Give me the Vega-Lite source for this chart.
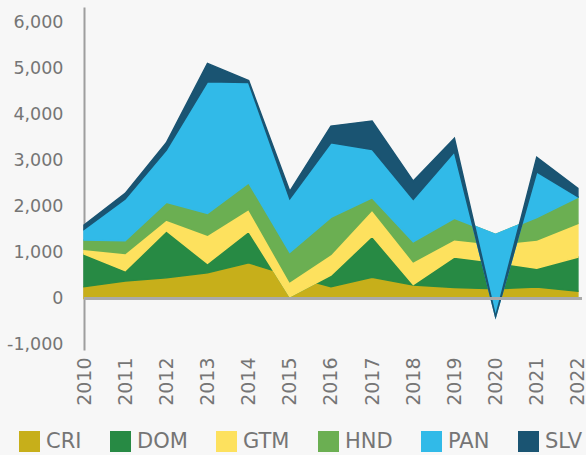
{
  "$schema": "https://vega.github.io/schema/vega-lite/v6.json",
  "width": 498,
  "height": 343,
  "autosize": "none",
  "padding": {"left": 84, "top": 7, "right": 4, "bottom": 105},
  "background": "#f7f7f7",
  "config": {"font": "DejaVu Sans", "view": {"stroke": null}},
  "data": {"values": [
    {"series": "CRI", "year": 2010, "value": 257}, {"series": "CRI", "year": 2011, "value": 380}, {"series": "CRI", "year": 2012, "value": 453}, {"series": "CRI", "year": 2013, "value": 561}, {"series": "CRI", "year": 2014, "value": 778}, {"series": "CRI", "year": 2015, "value": 500}, {"series": "CRI", "year": 2016, "value": 257}, {"series": "CRI", "year": 2017, "value": 460}, {"series": "CRI", "year": 2018, "value": 293}, {"series": "CRI", "year": 2019, "value": 240}, {"series": "CRI", "year": 2020, "value": 210}, {"series": "CRI", "year": 2021, "value": 250}, {"series": "CRI", "year": 2022, "value": 160},
    {"series": "DOM", "year": 2010, "value": 710}, {"series": "DOM", "year": 2011, "value": 225}, {"series": "DOM", "year": 2012, "value": 1021}, {"series": "DOM", "year": 2013, "value": 204}, {"series": "DOM", "year": 2014, "value": 689}, {"series": "DOM", "year": 2015, "value": -460}, {"series": "DOM", "year": 2016, "value": 253}, {"series": "DOM", "year": 2017, "value": 899}, {"series": "DOM", "year": 2018, "value": 12}, {"series": "DOM", "year": 2019, "value": 665}, {"series": "DOM", "year": 2020, "value": 580}, {"series": "DOM", "year": 2021, "value": 406}, {"series": "DOM", "year": 2022, "value": 740},
    {"series": "GTM", "year": 2010, "value": 103}, {"series": "GTM", "year": 2011, "value": 377}, {"series": "GTM", "year": 2012, "value": 233}, {"series": "GTM", "year": 2013, "value": 615}, {"series": "GTM", "year": 2014, "value": 472}, {"series": "GTM", "year": 2015, "value": 325}, {"series": "GTM", "year": 2016, "value": 450}, {"series": "GTM", "year": 2017, "value": 565}, {"series": "GTM", "year": 2018, "value": 495}, {"series": "GTM", "year": 2019, "value": 375}, {"series": "GTM", "year": 2020, "value": 390}, {"series": "GTM", "year": 2021, "value": 616}, {"series": "GTM", "year": 2022, "value": 730},
    {"series": "HND", "year": 2010, "value": 202}, {"series": "HND", "year": 2011, "value": 275}, {"series": "HND", "year": 2012, "value": 384}, {"series": "HND", "year": 2013, "value": 472}, {"series": "HND", "year": 2014, "value": 578}, {"series": "HND", "year": 2015, "value": 639}, {"series": "HND", "year": 2016, "value": 805}, {"series": "HND", "year": 2017, "value": 268}, {"series": "HND", "year": 2018, "value": 435}, {"series": "HND", "year": 2019, "value": 463}, {"series": "HND", "year": 2020, "value": 215}, {"series": "HND", "year": 2021, "value": 488}, {"series": "HND", "year": 2022, "value": 570},
    {"series": "PAN", "year": 2010, "value": 232}, {"series": "PAN", "year": 2011, "value": 906}, {"series": "PAN", "year": 2012, "value": 1137}, {"series": "PAN", "year": 2013, "value": 2861}, {"series": "PAN", "year": 2014, "value": 2183}, {"series": "PAN", "year": 2015, "value": 1166}, {"series": "PAN", "year": 2016, "value": 1622}, {"series": "PAN", "year": 2017, "value": 1051}, {"series": "PAN", "year": 2018, "value": 922}, {"series": "PAN", "year": 2019, "value": 1448}, {"series": "PAN", "year": 2020, "value": -1791}, {"series": "PAN", "year": 2021, "value": 997}, {"series": "PAN", "year": 2022, "value": 13},
    {"series": "SLV", "year": 2010, "value": 94}, {"series": "SLV", "year": 2011, "value": 124}, {"series": "SLV", "year": 2012, "value": 159}, {"series": "SLV", "year": 2013, "value": 400}, {"series": "SLV", "year": 2014, "value": 40}, {"series": "SLV", "year": 2015, "value": 160}, {"series": "SLV", "year": 2016, "value": 363}, {"series": "SLV", "year": 2017, "value": 616}, {"series": "SLV", "year": 2018, "value": 397}, {"series": "SLV", "year": 2019, "value": 292}, {"series": "SLV", "year": 2020, "value": 0}, {"series": "SLV", "year": 2021, "value": 313}, {"series": "SLV", "year": 2022, "value": 183}
  ]},
  "layer": [
    {
      "transform": [
        {"window": [{"op": "sum", "field": "value", "as": "top"}], "groupby": ["year"], "sort": [{"field": "series"}], "frame": [null, 0]},
        {"calculate": "datum.top - datum.value", "as": "base"}
      ],
      "mark": {"type": "area", "interpolate": "linear", "strokeWidth": 1.5, "strokeJoin": "miter"},
      "encoding": {
        "x": {"field": "year", "type": "quantitative",
              "scale": {"domain": [2010, 2022.1], "nice": false, "zero": false},
              "axis": {"values": [2010, 2011, 2012, 2013, 2014, 2015, 2016, 2017, 2018, 2019, 2020, 2021, 2022], "format": "d", "labelAngle": -90, "grid": false, "ticks": false, "domain": false, "labelPadding": 7, "labelFontSize": 19, "labelColor": "#757575", "title": null, "labelFlush": false, "labelOverlap": false}},
        "y": {"field": "top", "type": "quantitative", "stack": null,
              "scale": {"domain": [-1120, 6340], "nice": false, "zero": false},
              "axis": {"values": [-1000, 0, 1000, 2000, 3000, 4000, 5000, 6000], "format": ",d", "labelExpr": "replace(datum.label, '\u2212', '-')", "grid": false, "ticks": false, "domain": true, "domainColor": "#9e9e9e", "domainWidth": 2, "labelColor": "#757575", "labelFontSize": 17.5, "labelPadding": 21, "title": null}},
        "y2": {"field": "base"},
        "color": {"field": "series", "type": "nominal",
                  "scale": {"domain": ["CRI", "DOM", "GTM", "HND", "PAN", "SLV"], "range": ["#c7af1a", "#278a44", "#fde15e", "#6baf52", "#31bae8", "#1a5472"]},
                  "legend": {"orient": "none", "legendX": -65, "legendY": 424, "direction": "horizontal", "title": null, "symbolType": "square", "symbolSize": 441, "symbolStrokeWidth": 0, "labelFontSize": 21, "labelColor": "#757575", "columnPadding": 28, "labelOffset": 6}},
        "stroke": {"field": "series", "type": "nominal",
                   "scale": {"domain": ["CRI", "DOM", "GTM", "HND", "PAN", "SLV"], "range": ["#c7af1a", "#278a44", "#fde15e", "#6baf52", "#31bae8", "#1a5472"]},
                   "legend": null}
      }
    },
    {
      "mark": {"type": "rule", "color": "#a9a9a9", "strokeWidth": 2},
      "encoding": {"y": {"datum": 0}}
    }
  ]
}
